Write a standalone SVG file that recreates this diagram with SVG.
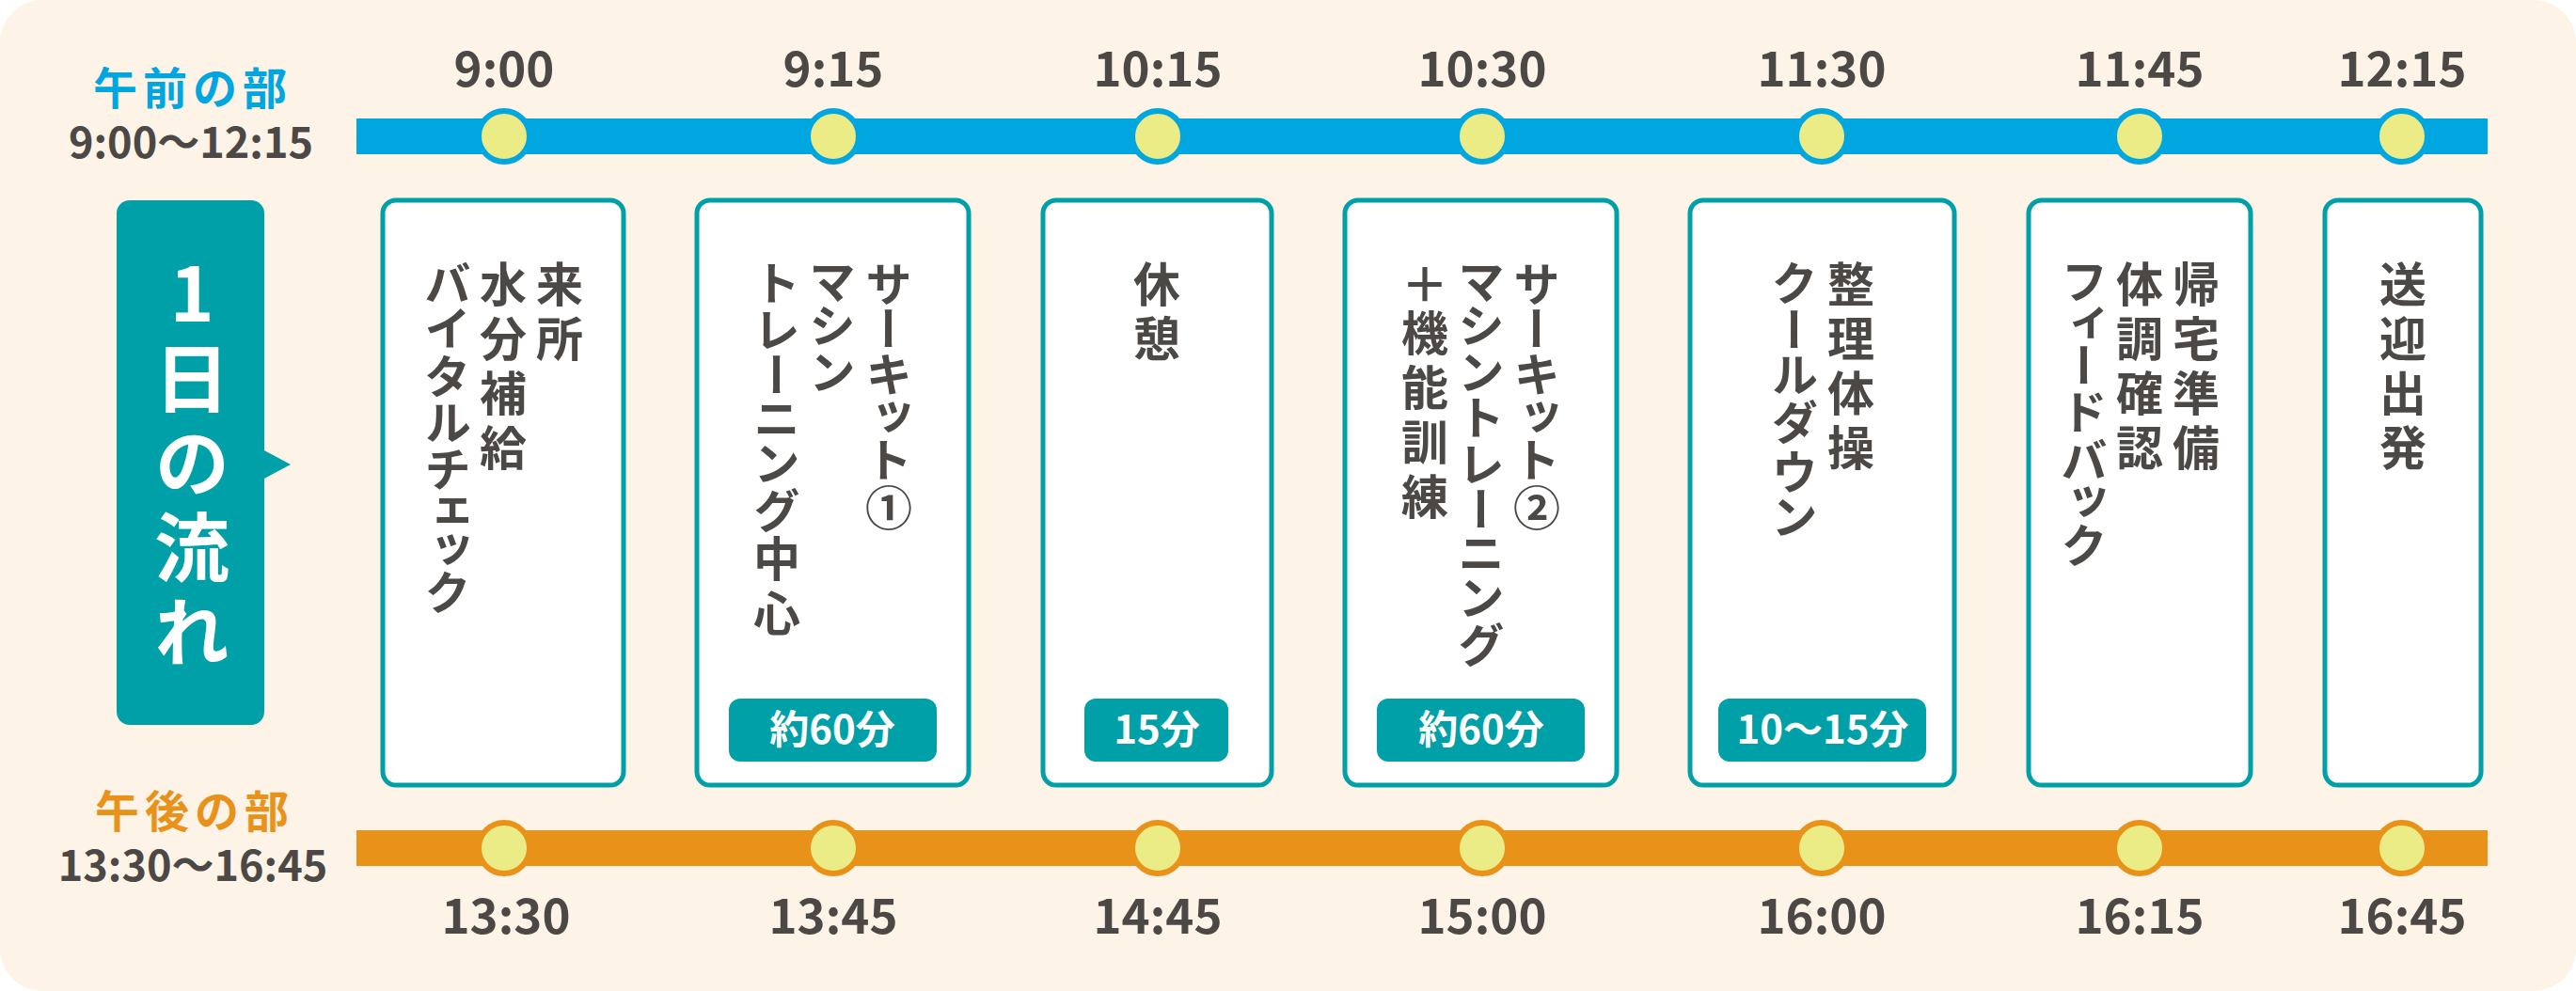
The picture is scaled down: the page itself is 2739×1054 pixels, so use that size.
<svg xmlns="http://www.w3.org/2000/svg" width="2739" height="1054" viewBox="0 0 2739 1054">
<style>
text { font-family: "Noto Sans CJK JP", "Noto Sans", sans-serif; }
.time { font-size: 51px; font-weight: 700; fill: #4b4846; text-anchor: middle; }
.sub { font-size: 45px; font-weight: 700; fill: #4b4846; text-anchor: middle; }
.v { writing-mode: vertical-rl; font-size: 50px; font-weight: 700; fill: #4b4846; letter-spacing: 8px; font-feature-settings: "vpal" 1; }
.k { letter-spacing: 2px; }
.box { fill: #ffffff; stroke: #00a0a8; stroke-width: 5; }
.pill { fill: #00a0a8; }
.pt { fill: #ffffff; font-size: 42px; font-weight: 700; text-anchor: middle; }
.dA { fill: #ecec86; stroke: #00a6e0; stroke-width: 6; }
.dP { fill: #ecec86; stroke: #e8921a; stroke-width: 6; }
</style>
<rect x="0" y="0" width="2739" height="1054" fill="#ffffff"/>
<rect x="0" y="0" width="2739" height="1054" rx="45" fill="#fdf3e7"/>

<g id="am-header">
<text x="205" y="111" style="font-size:47px;font-weight:700;fill:#00a6e0;text-anchor:middle;letter-spacing:6px">午前の部</text>
<text class="sub" x="203" y="168">9:00〜12:15</text>
</g>
<g id="pm-header">
<text x="207" y="880" style="font-size:47px;font-weight:700;fill:#e8921a;text-anchor:middle;letter-spacing:6px">午後の部</text>
<text class="sub" x="205" y="937">13:30〜16:45</text>
</g>

<g id="connectors">
<rect x="379" y="126" width="2266" height="38" fill="#00a6e0"/>
<rect x="379" y="883" width="2266" height="38" fill="#e8921a"/>
</g>

<g id="am-timeline">
<circle class="dA" cx="536" cy="145" r="27"/>
<circle class="dA" cx="886" cy="145" r="27"/>
<circle class="dA" cx="1231" cy="145" r="27"/>
<circle class="dA" cx="1576" cy="145" r="27"/>
<circle class="dA" cx="1937" cy="145" r="27"/>
<circle class="dA" cx="2275" cy="145" r="27"/>
<circle class="dA" cx="2554" cy="145" r="27"/>
<text class="time" x="536" y="92">9:00</text>
<text class="time" x="886" y="92">9:15</text>
<text class="time" x="1231" y="92">10:15</text>
<text class="time" x="1576" y="92">10:30</text>
<text class="time" x="1937" y="92">11:30</text>
<text class="time" x="2275" y="92">11:45</text>
<text class="time" x="2554" y="92">12:15</text>
</g>

<g id="pm-timeline">
<circle class="dP" cx="536" cy="902" r="27"/>
<circle class="dP" cx="886" cy="902" r="27"/>
<circle class="dP" cx="1231" cy="902" r="27"/>
<circle class="dP" cx="1576" cy="902" r="27"/>
<circle class="dP" cx="1937" cy="902" r="27"/>
<circle class="dP" cx="2275" cy="902" r="27"/>
<circle class="dP" cx="2554" cy="902" r="27"/>
<text class="time" x="538" y="993">13:30</text>
<text class="time" x="886" y="993">13:45</text>
<text class="time" x="1231" y="993">14:45</text>
<text class="time" x="1576" y="993">15:00</text>
<text class="time" x="1937" y="993">16:00</text>
<text class="time" x="2275" y="993">16:15</text>
<text class="time" x="2554" y="993">16:45</text>
</g>

<g id="title">
<rect x="124" y="213" width="157" height="558" rx="14" fill="#00a0a8"/>
<polygon points="279,478 309,494 279,510" fill="#00a0a8"/>
<text x="204" y="272" style="writing-mode:vertical-rl;text-orientation:upright;font-size:80px;font-weight:700;fill:#ffffff;letter-spacing:10px">1日の流れ</text>
</g>

<g id="step1">
<rect class="box" x="407" y="213" width="256" height="622" rx="14"/>
<text class="v" x="595" y="277">来所</text>
<text class="v" x="535" y="277">水分補給</text>
<text class="v" x="476" y="277"><tspan class="k">バイタルチェック</tspan></text>
</g>

<g id="step2">
<rect class="box" x="741" y="213" width="289" height="622" rx="14"/>
<text class="v" x="945" y="277"><tspan class="k">サーキット①</tspan></text>
<text class="v" x="885" y="277"><tspan class="k">マシン</tspan></text>
<text class="v" x="826" y="277"><tspan class="k">トレーニング</tspan>中心</text>
<rect class="pill" x="775" y="743" width="221" height="67" rx="12"/>
<text class="pt" x="885" y="791">約60分</text>
</g>

<g id="step3">
<rect class="box" x="1109" y="213" width="243" height="622" rx="14"/>
<text class="v" x="1230" y="277">休憩</text>
<rect class="pill" x="1153" y="743" width="153" height="67" rx="12"/>
<text class="pt" x="1230" y="791">15分</text>
</g>

<g id="step4">
<rect class="box" x="1430" y="213" width="289" height="622" rx="14"/>
<text class="v" x="1634" y="277"><tspan class="k">サーキット②</tspan></text>
<text class="v" x="1575" y="277"><tspan class="k">マシントレーニング</tspan></text>
<text class="v" x="1515" y="277"><tspan class="k">＋</tspan>機能訓練</text>
<rect class="pill" x="1464" y="743" width="221" height="67" rx="12"/>
<text class="pt" x="1575" y="791">約60分</text>
</g>

<g id="step5">
<rect class="box" x="1797" y="213" width="281" height="622" rx="14"/>
<text class="v" x="1968" y="277">整理体操</text>
<text class="v" x="1908" y="277"><tspan class="k">クールダウン</tspan></text>
<rect class="pill" x="1827" y="743" width="221" height="67" rx="12"/>
<text class="pt" x="1938" y="791">10〜15分</text>
</g>

<g id="step6">
<rect class="box" x="2157" y="213" width="236" height="622" rx="14"/>
<text class="v" x="2335" y="277">帰宅準備</text>
<text class="v" x="2275" y="277">体調確認</text>
<text class="v" x="2216" y="277"><tspan class="k">フィードバック</tspan></text>
</g>

<g id="step7">
<rect class="box" x="2472" y="213" width="166" height="622" rx="14"/>
<text class="v" x="2555" y="277">送迎出発</text>
</g>
</svg>
